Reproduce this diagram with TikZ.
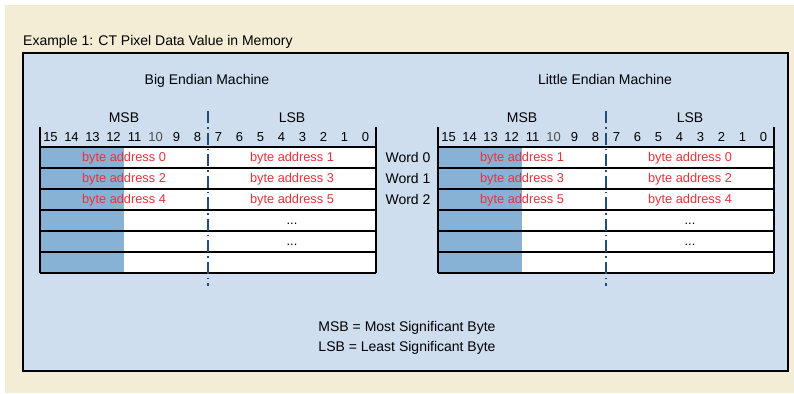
\documentclass[tikz,border=0pt]{standalone}
\usepackage{fontspec}
\setmainfont{Liberation Sans}
\definecolor{pagebg}{HTML}{F3EDD6}
\definecolor{panelbg}{HTML}{CEDEEF}
\definecolor{msbfill}{HTML}{88B1D6}
\definecolor{addrred}{HTML}{E8323C}
\definecolor{divblue}{HTML}{1F4E79}

\begin{document}
\begin{tikzpicture}[x=1pt,y=-1pt]
\tikzstyle{heading} = [font=\fontsize{14}{16}\selectfont, inner sep=0pt, anchor=base]
\tikzstyle{bitnum}  = [font=\fontsize{13}{15}\selectfont, inner sep=0pt, anchor=base]
\tikzstyle{addr}    = [font=\fontsize{12.8}{15}\selectfont, text=addrred, inner sep=0pt, anchor=base]
\tikzstyle{grid}    = [draw=black, line width=1.3pt]
\tikzstyle{divider} = [draw=divblue, line width=1.1pt, dash pattern=on 12pt off 4pt on 1.5pt off 4pt]

\useasboundingbox (0,0) rectangle (794,393);
\fill[pagebg] (5,5) rectangle (794,393);
\draw[fill=panelbg, line width=1.6pt] (23,53) rectangle (788,371);

\node (title) [heading, anchor=base west] at (23,46) {Example 1: CT Pixel Data Value in Memory};

% the two memory tables
\foreach \side/\dx/\mach in {big/0/Big Endian Machine, little/398/Little Endian Machine} {
  \begin{scope}[xshift=\dx pt]
    \node (\side-head) [heading] at (207,85) {\mach};
    \node (\side-msb)  [heading] at (124,122.5) {MSB};
    \node (\side-lsb)  [heading] at (292,122.5) {LSB};
    \fill[msbfill] (40,147) rectangle (124,273);
    \fill[white]   (124,147) rectangle (376,273);
    \foreach \r in {0,...,6}
      \draw[grid] (40,{147+21*\r}) -- (376,{147+21*\r});
    \draw[grid] (40,127) -- (40,273);
    \draw[grid] (376,127) -- (376,273);
    \draw[divider] (208,111) -- (208,286);
    \foreach \b/\c [count=\i from 0] in {15/black,14/black,13/black,12/black,11/black,10/black!70,9/black,8/black,
                                         7/black,6/black,5/black,4/black,3/black,2/black,1/black,0/black}
      \node (\side-bit\b) [bitnum, text=\c] at ({50.5+21*\i},141.5) {\b};
    \node (\side-dots1) [addr, text=black] at (292,224.5) {...};
    \node (\side-dots2) [addr, text=black] at (292,245.5) {...};
  \end{scope}
}

% byte addresses
\foreach \k/\hi/\lo in {0/0/1, 1/2/3, 2/4/5} {
  \node (big-hi\k)    [addr] at (124,{161.5+21*\k}) {byte address \hi};
  \node (big-lo\k)    [addr] at (292,{161.5+21*\k}) {byte address \lo};
  \node (little-hi\k) [addr] at (522,{161.5+21*\k}) {byte address \lo};
  \node (little-lo\k) [addr] at (690,{161.5+21*\k}) {byte address \hi};
  \node (word\k)      [heading] at (408,{162.5+21*\k}) {Word \k};
}

\node (note1) [heading] at (407,331) {MSB = Most Significant Byte};
\node (note2) [heading] at (407,351) {LSB = Least Significant Byte};
\end{tikzpicture}
\end{document}
